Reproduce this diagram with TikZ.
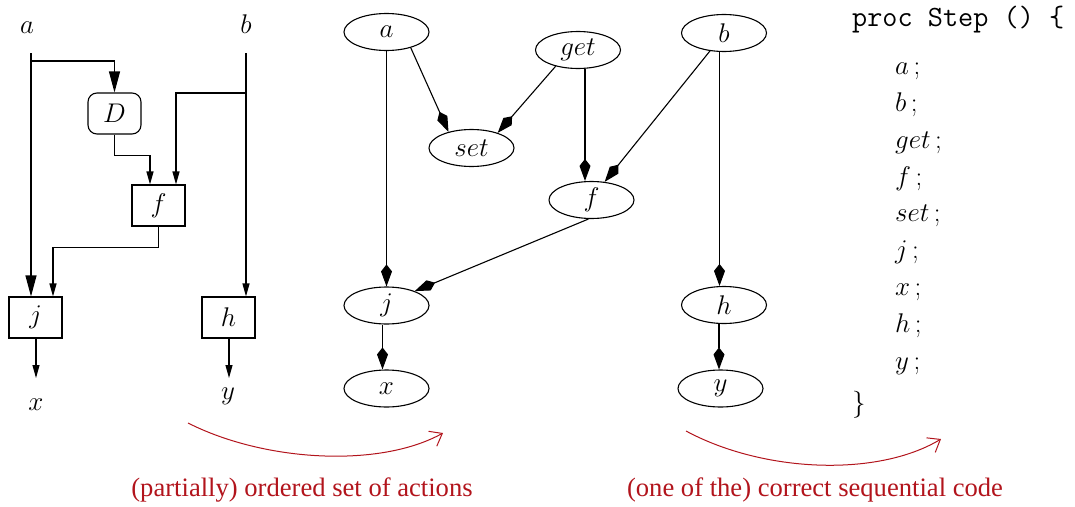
\RequirePackage{fix-cm}
\documentclass[tikz,border=0pt]{standalone}
\usepackage{fontspec}
\newfontfamily\timesf{Liberation Serif}
\usetikzlibrary{arrows.meta,shapes.geometric,calc}
\definecolor{capred}{RGB}{178,20,28}
\tikzset{
  every node/.style={font=\fontsize{27}{32}\selectfont, inner sep=0pt},
  wire/.style={line width=1.1pt},
  bighead/.style={-{Triangle[length=21pt,width=11pt]}},
  smallhead/.style={-{Triangle[length=13pt,width=7pt]}},
  blk/.style={draw, line width=1.1pt, minimum width=53pt, minimum height=41pt},
  dly/.style={blk, rounded corners=9pt},
  act/.style={ellipse, draw, line width=1.1pt, minimum width=85pt, minimum height=37pt},
  dep/.style={line width=1.1pt, -{Kite[length=22pt,width=11pt,inset=7pt]}},
  capt/.style={font=\timesf\fontsize{26.6}{30}\selectfont, text=capred},
  curvearrow/.style={capred, line width=1pt, -{Straight Barb[length=11pt,width=17pt,line width=1pt]}},
  codeline/.style={anchor=base west},
}
\begin{document}
\begin{tikzpicture}[x=1pt,y=-1pt]
\useasboundingbox (0,0) rectangle (1075,506);

% ---------- left: block diagram ----------
\node[anchor=base] (la) at (27,33) {$a$};
\node[anchor=base] (lb) at (246,33) {$b$};
\node[dly] (D) at (114.5,113.5) {$D$};
\node[blk] (f) at (158.5,205.5) {$f$};
\node[blk] (j) at (35.5,317.5) {$j$};
\node[blk] (h) at (228.5,317.5) {$h$};
\node[anchor=base] (lx) at (36,410) {$x$};
\node[anchor=base] (ly) at (228,399) {$y$};

\coordinate (a0) at (31,53);
\coordinate (a1) at (31,61);
\coordinate (b0) at (246,53);
\coordinate (b1) at (246,93);
\coordinate (xo) at (36,378);
\coordinate (yo) at (229,378);

\draw[wire,bighead] (a0) -- (a0 |- j.north);
\draw[wire,bighead] (a1) -- (a1 -| D.north) -- (D.north);
\draw[wire,smallhead] (D.south) -- ++(0,21) -| (f.north -| 150,0);
\draw[wire,smallhead] (b0) -- (b0 |- h.north);
\draw[wire,smallhead] (b1) -- (176,93) -- (f.north -| 176,0);
\draw[wire,smallhead] (f.south) -- ++(0,20.5) -| (j.north -| 53,0);
\draw[wire,smallhead] (j.south -| xo) -- (xo);
\draw[wire,smallhead] (h.south -| yo) -- (yo);

% ---------- middle: partial order ----------
\node[act] (na)   at (386.5,32) {$a$};
\node[act] (nget) at (578,50) {$get$};
\node[act] (nb)   at (724,33) {$b$};
\node[act] (nset) at (471.5,148) {$set$};
\node[act] (nf)   at (591.5,200) {$f$};
\node[act] (nj)   at (386.5,305.5) {$j$};
\node[act] (nh)   at (724,305) {$h$};
\node[act] (nx)   at (386.5,388.5) {$x$};
\node[act] (ny)   at (720.5,388.5) {$y$};

\draw[dep] (na.south) -- (nj.north);
\draw[dep] (na.-33) -- (nset.145);
\draw[dep] (nget.216) -- (nset.30);
\draw[dep] ([xshift=7pt]nget.south) -- ([xshift=-6.5pt]nf.north);
\draw[dep] (nb.232) -- (nf.54);
\draw[dep] (nf.261) -- (nj.27);
\draw[dep] ([xshift=-4.5pt]nb.south) -- ([xshift=-4.5pt]nh.north);
\draw[dep] ([xshift=-4pt]nj.south) -- ([xshift=-4pt]nx.north);
\draw[dep] ([xshift=-5pt]nh.south) -- ([xshift=-1.5pt]ny.north);

% ---------- right: sequential code ----------
\node[codeline] (c0) at (852,27) {\ttfamily\fontsize{29.4}{32}\selectfont proc Step () \{};
\node[codeline] (c1) at (895,74)  {$a\,;$};
\node[codeline] (c2) at (895,111) {$b\,;$};
\node[codeline] (c3) at (895,148) {$get\,;$};
\node[codeline] (c4) at (895,185) {$f\,;$};
\node[codeline] (c5) at (895,221) {$set\,;$};
\node[codeline] (c6) at (895,258) {$j\,;$};
\node[codeline] (c7) at (895,295) {$x\,;$};
\node[codeline] (c8) at (895,332) {$h\,;$};
\node[codeline] (c9) at (895,369) {$y\,;$};
\node[codeline] (c10) at (852,411) {$\}$};

% ---------- captions ----------
\coordinate (s1) at (188,423);
\coordinate (e1) at (443,433);
\coordinate (s2) at (686,431);
\coordinate (e2) at (941,439);
\draw[curvearrow] (s1) .. controls (265,462) and (380,468) .. (e1);
\draw[curvearrow] (s2) .. controls (764,473) and (878,477) .. (e2);
\node[capt] (cap1) at (302,490) {(partially) ordered set of actions};
\node[capt] (cap2) at (815,490) {(one of the) correct sequential code};
\end{tikzpicture}
\end{document}
